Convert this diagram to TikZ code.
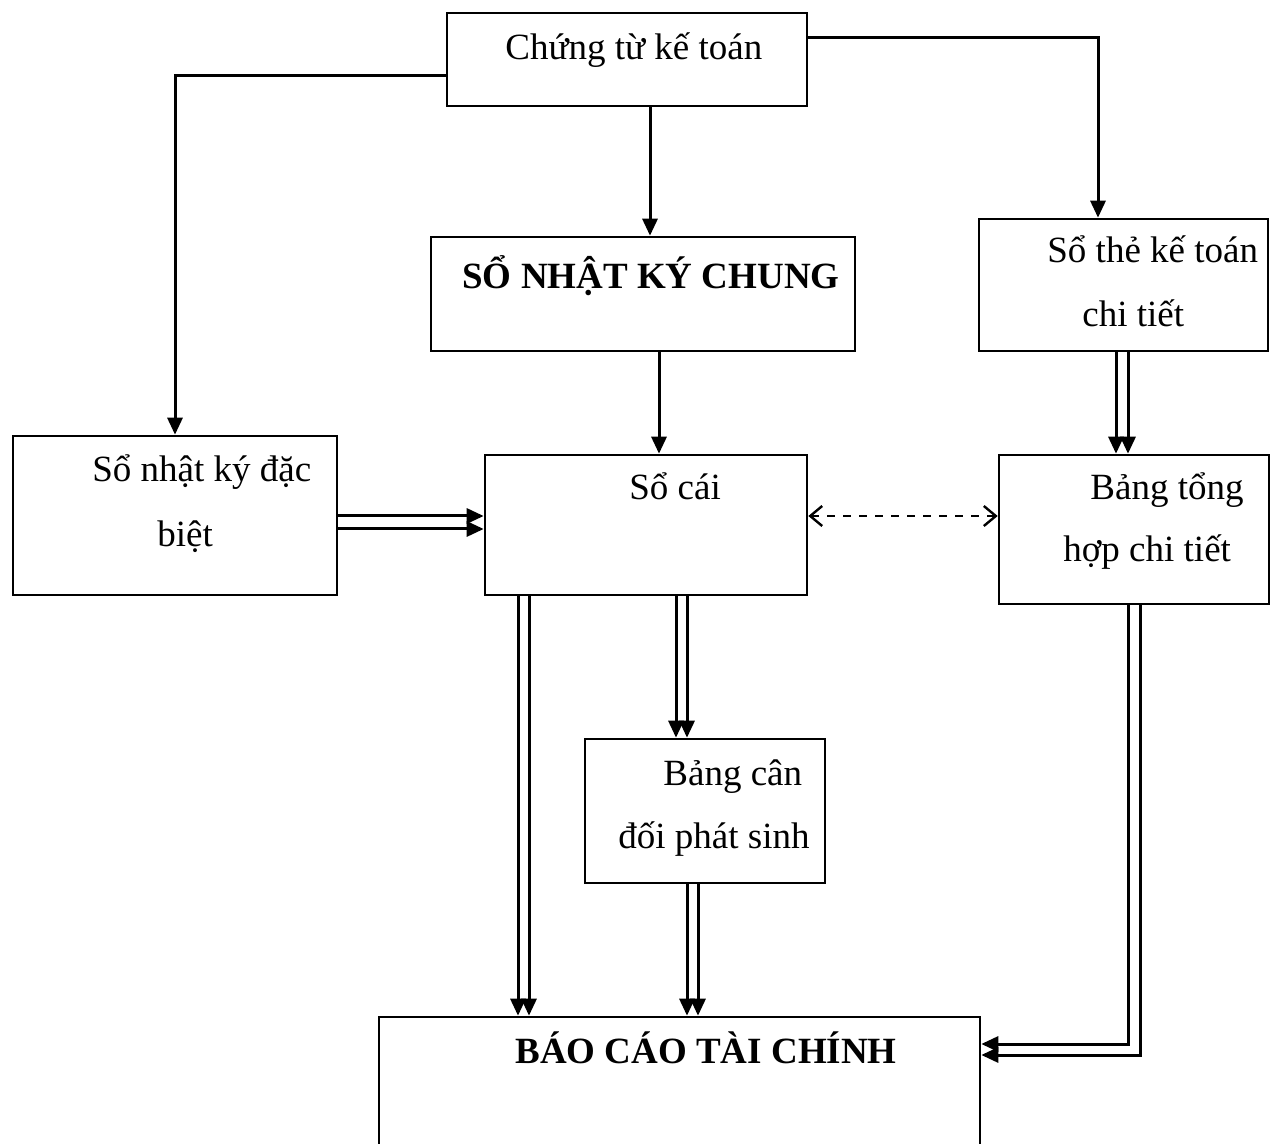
\documentclass[tikz,border=0pt]{standalone}
\usepackage{fontspec}
\setmainfont{Liberation Serif}
\usetikzlibrary{arrows.meta,fit}
\tikzset{
  box/.style={draw, line width=1.3pt, inner sep=0pt},
  txt/.style={inner sep=0pt, anchor=base west, font=\fontsize{18.5}{22}\selectfont},
  btxt/.style={txt, font=\fontsize{18.5}{22}\selectfont\bfseries},
  arr/.style={line width=1.5pt, -{Triangle[length=8.5pt,width=7.5pt]}},
  darr/.style={line width=1.2pt, dash pattern=on 4pt off 4pt, {Straight Barb[length=6pt,width=10pt]}-{Straight Barb[length=6pt,width=10pt]}}
}
\begin{document}
\begin{tikzpicture}[x=0.5pt,y=-0.5pt]
    \useasboundingbox (0,0) rectangle (1270,1144);
    \clip (0,0) rectangle (1270,1144);
    % boxes
    \node[box, fit={(447,13)(807,106)}] (ct) {};
    \node[box, fit={(431,237)(855,351)}] (nkc) {};
    \node[box, fit={(979,219)(1268,351)}] (stct) {};
    \node[box, fit={(13,436)(337,595)}] (nkdb) {};
    \node[box, fit={(485,455)(807,595)}] (socai) {};
    \node[box, fit={(999,455)(1269,604)}] (bth) {};
    \node[box, fit={(585,739)(825,883)}] (bcd) {};
    \node[box, fit={(379,1017)(980,1170)}] (bctc) {};
    % texts
    \node[txt] (ct-t) at (505,60) {Chứng từ kế toán};
    \node[btxt] (nkc-t) at (462,289) {SỔ NHẬT KÝ CHUNG};
    \node[txt] (stct-t1) at (1047,263) {Sổ thẻ kế toán};
    \node[txt] (stct-t2) at (1082,327) {chi tiết};
    \node[txt] (nkdb-t1) at (92,482) {Sổ nhật ký đặc};
    \node[txt] (nkdb-t2) at (157,547) {biệt};
    \node[txt] (socai-t) at (629,500) {Sổ cái};
    \node[txt] (bth-t1) at (1090,500) {Bảng tổng};
    \node[txt] (bth-t2) at (1063,562) {hợp chi tiết};
    \node[txt] (bcd-t1) at (663,785) {Bảng cân};
    \node[txt] (bcd-t2) at (618,848) {đối phát sinh};
    \node[btxt] (bctc-t) at (515,1063) {BÁO CÁO TÀI CHÍNH};
    % single arrows
    \draw[arr] (ct.west |- 0,76) -| (nkdb.north -| 175,0);
    \draw[arr] (ct.south -| 650,0) -- (nkc.north -| 650,0);
    \draw[arr] (ct.east |- 0,38) -| (stct.north -| 1098,0);
    \draw[arr] (nkc.south -| 659,0) -- (socai.north -| 659,0);
    % double arrows
    \draw[arr] (nkdb.east |- 0,516) -- (socai.west |- 0,516);
    \draw[arr] (nkdb.east |- 0,529) -- (socai.west |- 0,529);
    \draw[arr] (stct.south -| 1116,0) -- (bth.north -| 1116,0);
    \draw[arr] (stct.south -| 1128,0) -- (bth.north -| 1128,0);
    \draw[arr] (socai.south -| 518,0) -- (bctc.north -| 518,0);
    \draw[arr] (socai.south -| 529,0) -- (bctc.north -| 529,0);
    \draw[arr] (socai.south -| 676,0) -- (bcd.north -| 676,0);
    \draw[arr] (socai.south -| 687,0) -- (bcd.north -| 687,0);
    \draw[arr] (bcd.south -| 687,0) -- (bctc.north -| 687,0);
    \draw[arr] (bcd.south -| 698,0) -- (bctc.north -| 698,0);
    \draw[arr] (bth.south -| 1128,0) |- (bctc.east |- 0,1044);
    \draw[arr] (bth.south -| 1140,0) |- (bctc.east |- 0,1055);
    % dashed link
    \draw[darr] (socai.east |- 0,516) -- (bth.west |- 0,516);
\end{tikzpicture}
\end{document}
